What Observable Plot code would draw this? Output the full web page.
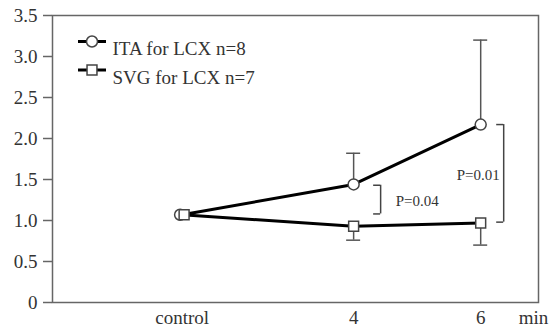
<!DOCTYPE html>
<html><head><meta charset="utf-8">
<script src="https://cdn.jsdelivr.net/npm/d3@7"></script>
<script src="https://cdn.jsdelivr.net/npm/@observablehq/plot@0.6"></script>
<style>body{margin:0;background:#fff;}</style>
</head><body><div id="chart"></div>
<script>
// ---- data ----
const times = ["control", "4", "6"];
const itaMean = [1.07, 1.44, 2.17];
const itaUpper = [null, 1.82, 3.20];
const svgMean = [1.07, 0.93, 0.97];
const svgLower = [null, 0.76, 0.70];
const yTicks = [0, 0.5, 1, 1.5, 2, 2.5, 3, 3.5];
const seriesNames = ["ITA for LCX n=8", "SVG for LCX n=7"];
const pLabels = ["P=0.04", "P=0.01"];
const pAt = ["4", "6"];
const pTop = [1.43, 2.17];
const pBottom = [1.08, 0.98];
const pLabelY = [1.24, 1.55];

// ---- layout (code, not data) ----
const timePos = {control: 1.3, "4": 4, "6": 6};
const xDomain = [-0.74, 6.91];
const ita = times.map((t, i) => ({t, x: timePos[t], y: itaMean[i], e: itaUpper[i]}));
const svg = times.map((t, i) => ({t, x: timePos[t], y: svgMean[i], e: svgLower[i]}));
const brackets = pLabels.map((label, i) => ({label, x: timePos[pAt[i]], top: pTop[i], bottom: pBottom[i], ly: pLabelY[i]}));
const bracketDx = [27, 23];
const labelDx = [42, 19];
const labelAnchor = ["start", "end"];

const lineSym = {draw(ctx) { ctx.moveTo(-14, 0); ctx.lineTo(14, 0); }};
const FS = 19;
const FONT = "'Liberation Serif', 'Times New Roman', serif";
const txt = "#333";

const marks = [
  Plot.frame({stroke: "#666", strokeWidth: 1.5}),
  // y ticks and labels
  Plot.ruleY(yTicks, {y: d => d, x1: () => xDomain[0], x2: () => xDomain[0], insetLeft: -9, stroke: "#666", strokeWidth: 1.5}),
  Plot.text(yTicks, {y: d => d, text: d => d === 0 ? "0" : d.toFixed(1), frameAnchor: "left", dx: -15, textAnchor: "end", fontSize: FS, fill: txt, fontFamily: FONT}),
  // x labels
  Plot.text(times, {x: d => timePos[d], text: d => d, frameAnchor: "bottom", dy: 21, fontSize: FS, fill: txt, fontFamily: FONT}),
  Plot.text(["min"], {text: d => d, frameAnchor: "bottom-right", dx: -5, dy: 21, fontSize: FS, fill: txt, textAnchor: "middle", fontFamily: FONT}),
  // error bars
  Plot.ruleX(ita.filter(d => d.e != null), {x: "x", y1: "y", y2: "e", stroke: "#555", strokeWidth: 1.5}),
  Plot.ruleY(ita.filter(d => d.e != null), {y: "e", x1: "x", x2: "x", insetLeft: -7, insetRight: -7, stroke: "#555", strokeWidth: 1.5}),
  Plot.ruleX(svg.filter(d => d.e != null), {x: "x", y1: "y", y2: "e", stroke: "#555", strokeWidth: 1.5}),
  Plot.ruleY(svg.filter(d => d.e != null), {y: "e", x1: "x", x2: "x", insetLeft: -7, insetRight: -7, stroke: "#555", strokeWidth: 1.5}),
  // lines
  Plot.line(ita, {x: "x", y: "y", stroke: "#000", strokeWidth: 3}),
  Plot.line(svg, {x: "x", y: "y", stroke: "#000", strokeWidth: 3}),
  // markers
  Plot.dot(ita.filter(d => d.t !== "control"), {x: "x", y: "y", r: 5.5, fill: "#fff", stroke: "#444", strokeWidth: 1.5}),
  Plot.dot(ita.filter(d => d.t === "control"), {x: "x", y: "y", dx: -2, r: 5.5, fill: "#fff", stroke: "#444", strokeWidth: 1.5}),
  Plot.dot(svg.filter(d => d.t !== "control"), {x: "x", y: "y", symbol: "square", r: 5.6, fill: "#fff", stroke: "#444", strokeWidth: 1.5}),
  Plot.dot(svg.filter(d => d.t === "control"), {x: "x", y: "y", dx: 2, symbol: "square", r: 5.6, fill: "#fff", stroke: "#444", strokeWidth: 1.5}),
];

// brackets
brackets.forEach((b, i) => {
  const dx = bracketDx[i];
  marks.push(
    Plot.ruleX([b], {x: "x", y1: "top", y2: "bottom", dx, stroke: "#444", strokeWidth: 1.5}),
    Plot.ruleY([b], {y: "top", x1: "x", x2: "x", insetLeft: dx - 7, insetRight: -dx, stroke: "#444", strokeWidth: 1.5}),
    Plot.ruleY([b], {y: "bottom", x1: "x", x2: "x", insetLeft: dx - 7, insetRight: -dx, stroke: "#444", strokeWidth: 1.5}),
    Plot.text([b], {x: "x", y: "ly", text: "label", dx: labelDx[i], textAnchor: labelAnchor[i], fontSize: 15, fill: txt, fontFamily: FONT})
  );
});

// legend (inside the frame)
seriesNames.forEach((name, i) => {
  const dy = 26 + i * 28.5;
  marks.push(
    Plot.dot([name], {frameAnchor: "top-left", dx: 39.5, dy, symbol: lineSym, stroke: "#000", strokeWidth: 3, fill: "none"}),
    Plot.dot([name], {frameAnchor: "top-left", dx: 39.5, dy, symbol: i === 0 ? "circle" : "square", r: i === 0 ? 5.5 : 5.6, fill: "#fff", stroke: "#444", strokeWidth: 1.5}),
    Plot.text([name], {frameAnchor: "top-left", dx: 60, dy, text: d => d, textAnchor: "start", fontSize: FS, fill: txt, fontFamily: FONT})
  );
});

const chart = Plot.plot({
  width: 558, height: 332,
  marginLeft: 52, marginRight: 20, marginTop: 15, marginBottom: 30,
  x: {type: "linear", domain: xDomain, axis: null},
  y: {domain: [0, 3.5], axis: null},
  style: {background: "#fff", color: txt, fontFamily: FONT},
  marks
});
document.getElementById("chart").appendChild(chart);
</script>
</body></html>
